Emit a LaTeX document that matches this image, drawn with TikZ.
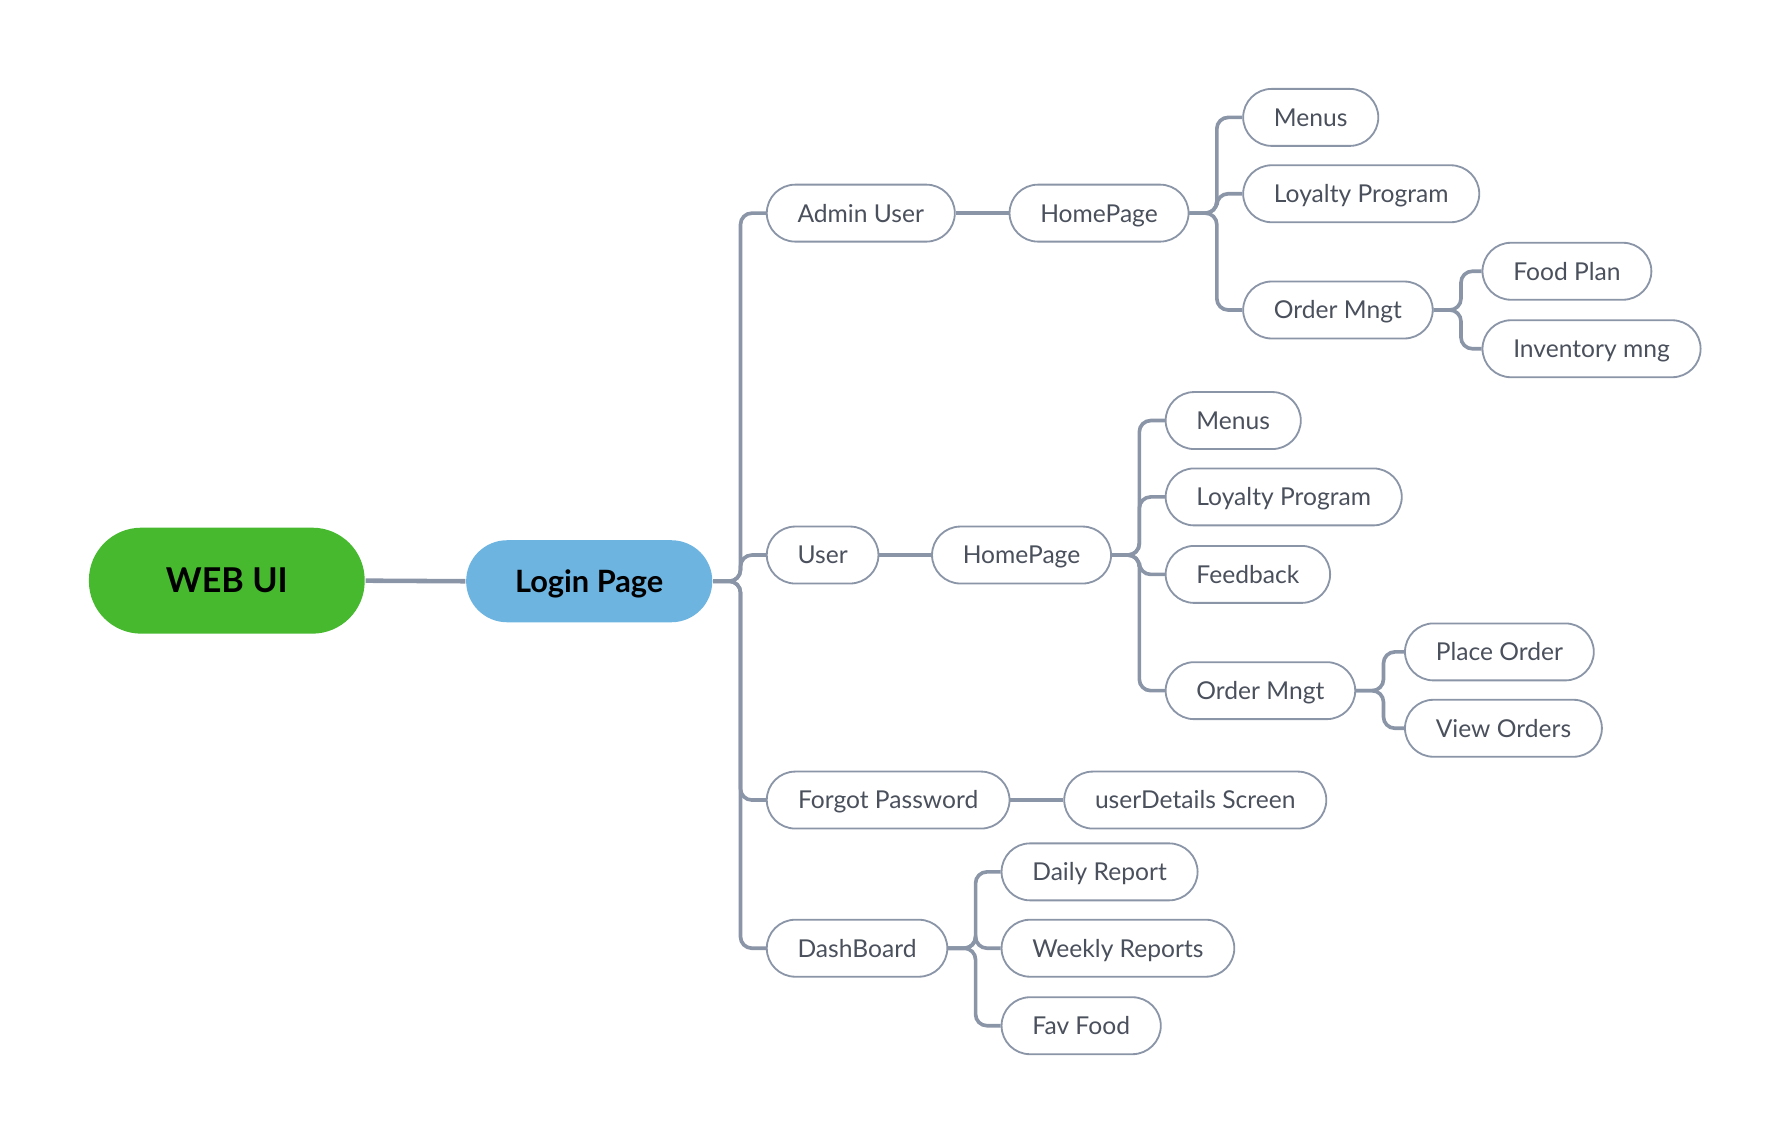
\documentclass[tikz,border=0pt]{standalone}
\usepackage{fontspec}
\setmainfont{Lato}
\definecolor{rootgreen}{HTML}{46B92F}
\definecolor{loginblue}{HTML}{6DB4E1}
\definecolor{linegray}{HTML}{8A95A7}
\definecolor{textgray}{HTML}{4A505C}

\tikzset{every picture/.style={line width=0.75pt}}
\tikzset{
  topic/.style={draw=linegray, line width=0.8pt, fill=white, rounded corners=12.5pt,
    minimum height=25pt, inner xsep=13.5pt, text=textgray, anchor=west,
    text height=9pt, text depth=1.2pt, font=\fontsize{10.8}{13}\selectfont},
  link/.style={draw=linegray, line width=1.6pt, rounded corners=5pt},
}

\begin{document}
\begin{tikzpicture}[x=0.5pt,y=0.5pt,yscale=-1,xscale=1]
	\useasboundingbox (0,0) rectangle (1568,1003);

	%Shape: Root [id:web]
	\node (web) at (199,509.5) [fill=rootgreen, rounded corners=23pt, minimum width=121pt, minimum height=46.5pt, text height=12pt, text depth=1.2pt, font=\fontsize{15}{18}\selectfont\bfseries] {WEB UI};
	%Shape: Login [id:login]
	\node (login) at (517,510) [fill=loginblue, rounded corners=18pt, minimum width=108pt, minimum height=36pt, text height=10.9pt, text depth=1.2pt, font=\fontsize{13.5}{16}\selectfont\bfseries] {Login Page};

	%Shape: Level 2
	\node (admin) at (672,187) [topic, minimum width=82pt] {Admin User};
	\node (user) at (672,487) [topic, minimum width=48pt] {User};
	\node (forgot) at (672,702) [topic, minimum width=106.5pt] {Forgot Password};
	\node (dash) at (672,832) [topic, minimum width=79pt] {DashBoard};

	%Shape: Admin branch
	\node (homeA) at (885,187) [topic, minimum width=78.5pt] {HomePage};
	\node (menusA) at (1090,103) [topic, minimum width=58pt] {Menus};
	\node (loyalA) at (1090,170) [topic, minimum width=103.5pt] {Loyalty Program};
	\node (orderA) at (1090,272) [topic, minimum width=81pt] {Order Mngt};
	\node (food) at (1300,238) [topic, minimum width=73.5pt] {Food Plan};
	\node (invent) at (1300,306) [topic, minimum width=95pt] {Inventory mng};

	%Shape: User branch
	\node (homeU) at (817,487) [topic, minimum width=78.5pt] {HomePage};
	\node (menusU) at (1022,369) [topic, minimum width=58pt] {Menus};
	\node (loyalU) at (1022,436) [topic, minimum width=103.5pt] {Loyalty Program};
	\node (feed) at (1022,504) [topic, minimum width=71.5pt] {Feedback};
	\node (orderU) at (1022,606) [topic, minimum width=81pt] {Order Mngt};
	\node (place) at (1232,572) [topic, minimum width=81.5pt] {Place Order};
	\node (view) at (1232,639) [topic, minimum width=85.5pt] {View Orders};

	%Shape: Forgot / DashBoard branches
	\node (details) at (933,702) [topic, minimum width=114pt] {userDetails Screen};
	\node (daily) at (878,765) [topic, minimum width=85pt] {Daily Report};
	\node (weekly) at (878,832) [topic, minimum width=102pt] {Weekly Reports};
	\node (fav) at (878,900) [topic, minimum width=69.5pt] {Fav Food};

	%Straight Lines
	\draw [link, line width=2pt] (web.east) -- (login.west);
	\foreach \a/\b in {admin/homeA, user/homeU, forgot/details}
	  \draw [link, line width=2pt] (\a.east) -- (\b.west);
	%Connectors
	\foreach \a/\b in {login/admin, login/user, login/forgot, login/dash,
	                   homeA/menusA, homeA/loyalA, homeA/orderA, orderA/food, orderA/invent,
	                   homeU/menusU, homeU/loyalU, homeU/feed, homeU/orderU, orderU/place, orderU/view,
	                   dash/daily, dash/weekly, dash/fav}
	  \draw [link] (\a.east) -- ++(24,0) |- (\b.west);

\end{tikzpicture}
\end{document}
